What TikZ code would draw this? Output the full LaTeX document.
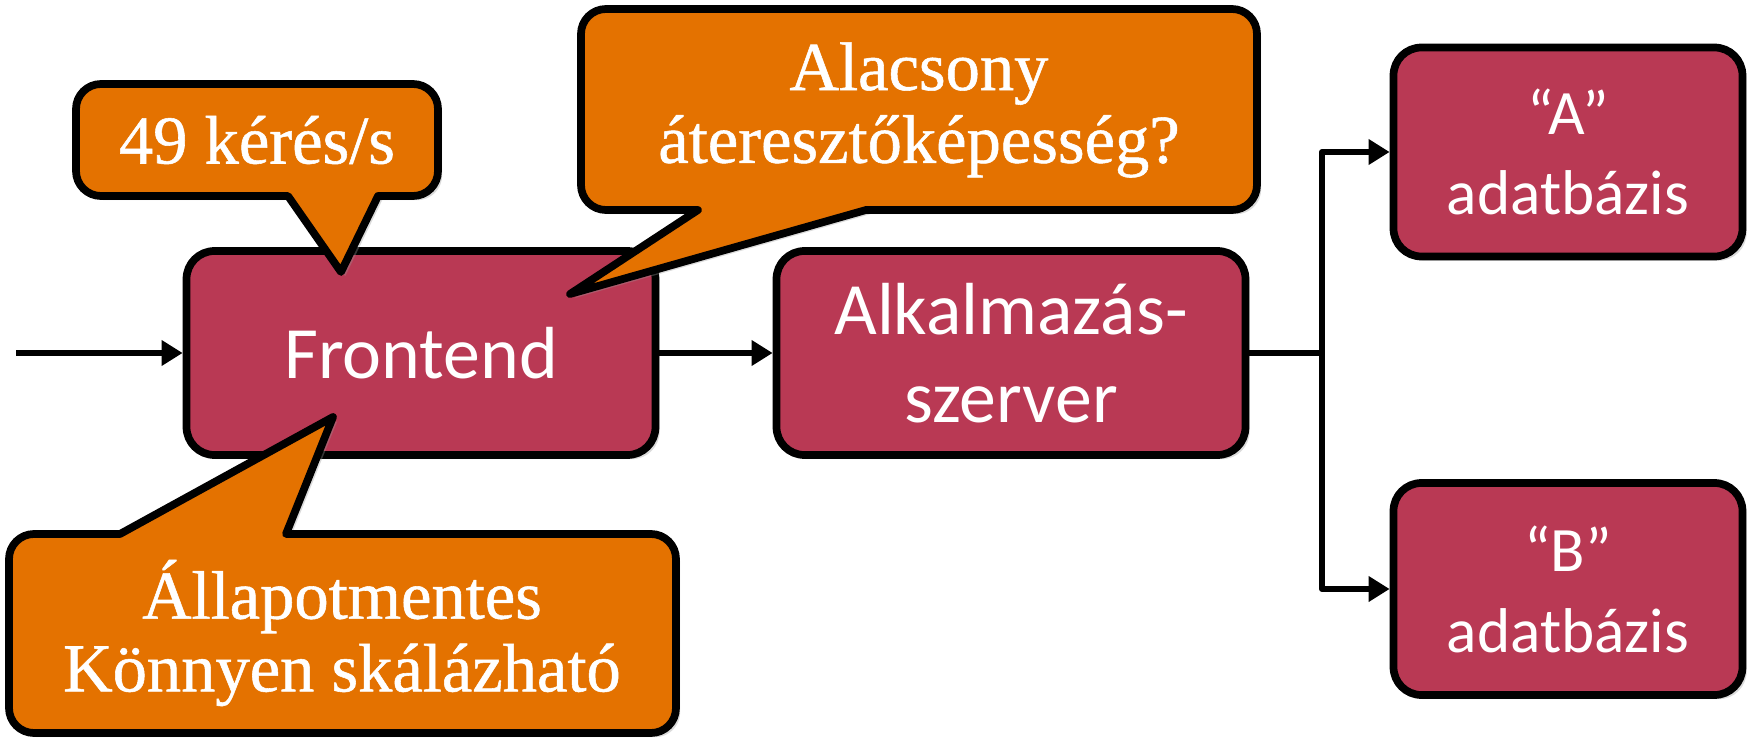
\documentclass[tikz,border=0pt]{standalone}
\usepackage{fontspec}
\setmainfont{Liberation Serif}
\newfontfamily\notefont[FakeBold=0.8]{Liberation Serif}
\newfontfamily\boxfont{Carlito}
\usetikzlibrary{arrows.meta,shadows}
\definecolor{tierred}{RGB}{185,57,84}
\definecolor{noteorange}{RGB}{228,114,0}
\begin{document}
\begin{tikzpicture}[x=0.1mm,y=-0.1mm,
  tier/.style={draw=black,line width=2.2pt,fill=tierred,rounded corners=2.8mm,text=white,align=center,
    font=\boxfont\fontsize{21}{25}\selectfont,
    drop shadow={fill=black!40,opacity=0.35,shadow xshift=1.2pt,shadow yshift=-1.2pt}},
  dbtier/.style={tier,font=\boxfont\fontsize{18}{23}\selectfont},
  note/.style={draw=black,line width=2.2pt,fill=noteorange,line join=round,
    drop shadow={fill=black!40,opacity=0.35,shadow xshift=1.2pt,shadow yshift=-1.2pt}},
  notetext/.style={text=white,align=center,font=\notefont\fontsize{19.5}{20.7}\selectfont},
  flow/.style={line width=1.7pt,line join=round,-{Triangle[length=6pt,width=7pt]}}]
\useasboundingbox (0,0) rectangle (1752,741);
% tiers
\node[tier,minimum width=46.9mm,minimum height=20.4mm] (front) at (421,353) {Frontend};
\node[tier,minimum width=46.9mm,minimum height=20.4mm] (app) at (1011,353) {Alkalmazás-\\szerver};
\node[dbtier,minimum width=34.9mm,minimum height=20.9mm] (dbA) at (1568,152) {“A”\\adatbázis};
\node[dbtier,minimum width=34.9mm,minimum height=21.2mm] (dbB) at (1568,589) {“B”\\adatbázis};
% connectors
\coordinate (in) at (16,353);
\coordinate (split) at (1322,353);
\draw[flow] (in) -- (front);
\draw[flow] (front) -- (app);
\draw[line width=1.7pt] (app) -- (split);
\draw[flow] (split) |- (dbA);
\draw[flow] (split) |- (dbB);
% callouts
\draw[note] (341,272) -- (288,196) [rounded corners=2.5mm] -- (76,196) -- (76,84) -- (438,84) -- (438,196) [sharp corners] -- (378,196) -- cycle;
\node[notetext] (rate) at (257,140) {49 kérés/s};
\draw[note] (570,294) -- (698,210) [rounded corners=2.5mm] -- (581,210) -- (581,9) -- (1257,9) -- (1257,210) [sharp corners] -- (866,210) -- cycle;
\node[notetext] (thru) at (919,110) {Alacsony\\áteresztőképesség?};
\draw[note] (333,417) -- (286,534) [rounded corners=2.5mm] -- (676,534) -- (676,733) -- (9,733) -- (9,534) [sharp corners] -- (120,534) -- cycle;
\node[notetext] (state) at (342,633) {Állapotmentes\\Könnyen skálázható};
\end{tikzpicture}
\end{document}
